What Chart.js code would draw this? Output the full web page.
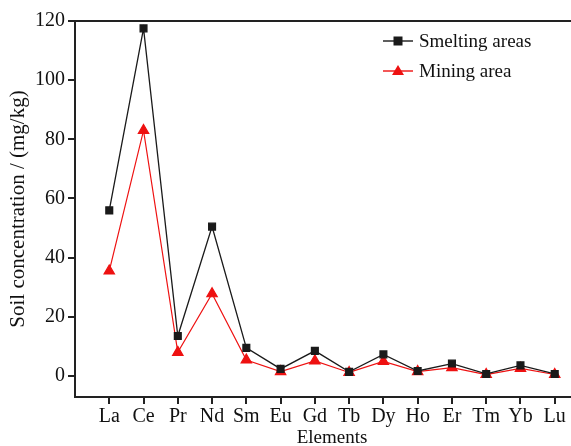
<!DOCTYPE html>
<html>
<head>
<meta charset="utf-8">
<script src="https://cdn.jsdelivr.net/npm/chart.js@4/dist/chart.umd.min.js"></script>
<style>
  html, body { margin: 0; padding: 0; background: #fff; overflow: hidden; }
  #wrap { width: 600px; height: 446px; }
</style>
</head>
<body>
<div id="wrap"><canvas id="c" width="600" height="446"></canvas></div>
<script>
// Dados (mg/kg)
const elementos = ['La','Ce','Pr','Nd','Sm','Eu','Gd','Tb','Dy','Ho','Er','Tm','Yb','Lu'];
const fundicao  = [56, 117.5, 13.5, 50.5, 9.5, 2.4, 8.5, 1.4, 7.3, 1.7, 4.2, 0.7, 3.6, 0.7];
const mineracao = [35.5, 83, 8, 27.8, 5.4, 1.5, 5.1, 1.2, 4.9, 1.5, 2.8, 0.5, 2.6, 0.5];
const yTicks    = [0, 20, 40, 60, 80, 100, 120];

const FONTE = '"Liberation Serif", "Times New Roman", serif';
const pontos = arr => arr.map((v, i) => ({ x: i + 1, y: v }));

// Moldura + legenda desenhadas à mão
const molduraPlugin = {
  id: 'moldura',
  afterDraw(chart) {
    const { ctx, chartArea: a } = chart;
    ctx.save();
    ctx.strokeStyle = '#222';
    ctx.lineWidth = 2;
    ctx.strokeRect(a.left, a.top, a.right - a.left, a.bottom - a.top);

    // legenda
    const itens = [
      { txt: 'Smelting areas', cor: '#1a1a1a', tipo: 'sq' },
      { txt: 'Mining area',    cor: '#ee1111', tipo: 'tri' },
    ];
    const x0 = a.left + 308;
    itens.forEach((it, i) => {
      const y = a.top + 20 + i * 30;
      ctx.strokeStyle = it.cor;
      ctx.fillStyle = it.cor;
      ctx.lineWidth = 1.4;
      ctx.beginPath();
      ctx.moveTo(x0, y); ctx.lineTo(x0 + 30, y);
      ctx.stroke();
      const cx = x0 + 15;
      if (it.tipo === 'sq') {
        ctx.fillRect(cx - 4.5, y - 4.5, 9, 9);
      } else {
        ctx.beginPath();
        ctx.moveTo(cx, y - 6); ctx.lineTo(cx + 6, y + 4); ctx.lineTo(cx - 6, y + 4);
        ctx.closePath(); ctx.fill();
      }
      ctx.fillStyle = '#111';
      ctx.font = '19px ' + FONTE;
      ctx.textBaseline = 'middle';
      ctx.fillText(it.txt, x0 + 36, y + 1);
    });
    ctx.restore();
  }
};

new Chart(document.getElementById('c'), {
  type: 'line',
  data: {
    datasets: [
      { label: 'Smelting areas', data: pontos(fundicao), borderColor: '#1a1a1a', backgroundColor: '#1a1a1a',
        borderWidth: 1.3, pointStyle: 'rect', pointRadius: 4.8, pointHoverRadius: 4.8, tension: 0 },
      { label: 'Mining area', data: pontos(mineracao), borderColor: '#ee1111', backgroundColor: '#ee1111',
        borderWidth: 1.2, pointStyle: 'triangle', pointRadius: 6, pointHoverRadius: 6, tension: 0 },
    ],
  },
  options: {
    responsive: false, animation: false,
    layout: { padding: { top: 21, right: 11, left: 0, bottom: 0 } },
    plugins: { legend: { display: false }, tooltip: { enabled: false } },
    scales: {
      x: {
        type: 'linear', min: 0, max: 15,
        afterBuildTicks: s => { s.ticks = elementos.map((_, i) => ({ value: i + 1 })); },
        afterFit: s => { s.height = 49; },
        border: { display: false },
        grid: { drawOnChartArea: false, drawTicks: true, tickLength: 7, color: '#222', lineWidth: 2 },
        ticks: { color: '#111', font: { family: FONTE, size: 20 }, padding: 1, maxRotation: 0,
                 callback: v => elementos[v - 1] || '' },
        title: { display: true, text: 'Elements', color: '#111', font: { family: FONTE, size: 19 }, padding: { top: -3, bottom: -3 } },
      },
      y: {
        min: -7.1, max: 120,
        afterBuildTicks: s => { s.ticks = yTicks.map(v => ({ value: v })); },
        afterFit: s => { s.width = 75; },
        border: { display: false },
        grid: { drawOnChartArea: false, drawTicks: true, tickLength: 7, color: '#222', lineWidth: 2 },
        ticks: { color: '#111', font: { family: FONTE, size: 20 }, padding: 3 },
        title: { display: true, text: 'Soil concentration / (mg/kg)', color: '#111', font: { family: FONTE, size: 21 }, padding: { top: 6, bottom: 0 } },
      },
    },
  },
  plugins: [molduraPlugin],
});
</script>
</body>
</html>
